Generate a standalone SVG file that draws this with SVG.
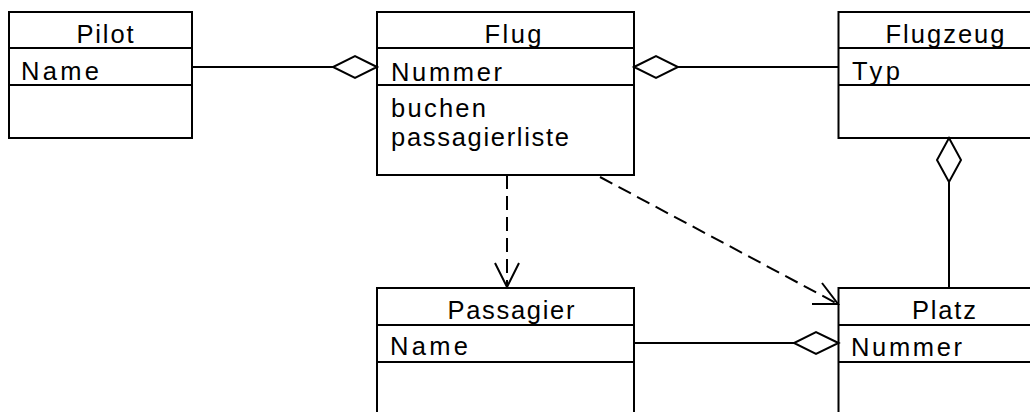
<svg xmlns="http://www.w3.org/2000/svg" width="1030" height="412" viewBox="0 0 1030 412">
  <style>
    .box { fill: #ffffff; stroke: #000000; stroke-width: 2; }
    .div { stroke: #000000; stroke-width: 2; fill: none; }
    .t { font-family: "Liberation Sans", Arial, sans-serif; font-size: 25.5px; fill: #000000; }
    .c { text-anchor: middle; }
    .line { stroke: #000000; stroke-width: 2; fill: none; }
    .dash { stroke: #000000; stroke-width: 2; fill: none; stroke-dasharray: 14 7; }
    .dia { fill: #ffffff; stroke: #000000; stroke-width: 2; stroke-linejoin: miter; }
  </style>
  <rect width="1030" height="412" fill="#ffffff"/>

  <g id="Pilot">
    <rect class="box" x="9" y="12" width="183" height="126"/>
    <line class="div" x1="9" y1="48" x2="192" y2="48"/>
    <line class="div" x1="9" y1="85" x2="192" y2="85"/>
    <text class="t c" x="105" y="43" textLength="57" lengthAdjust="spacing">Pilot</text>
    <text class="t" x="21" y="80" textLength="78" lengthAdjust="spacing">Name</text>
  </g>

  <g id="Flug">
    <rect class="box" x="377" y="12" width="257" height="163"/>
    <line class="div" x1="377" y1="48" x2="634" y2="48"/>
    <line class="div" x1="377" y1="85" x2="634" y2="85"/>
    <text class="t c" x="513" y="43" textLength="57" lengthAdjust="spacing">Flug</text>
    <text class="t" x="391" y="81" textLength="111" lengthAdjust="spacing">Nummer</text>
    <text class="t" x="391" y="117" textLength="95" lengthAdjust="spacing">buchen</text>
    <text class="t" x="391" y="146" textLength="178" lengthAdjust="spacing">passagierliste</text>
  </g>

  <g id="Flugzeug">
    <rect class="box" x="838.5" y="12" width="220" height="126"/>
    <line class="div" x1="838.5" y1="48" x2="1058" y2="48"/>
    <line class="div" x1="838.5" y1="85" x2="1058" y2="85"/>
    <text class="t c" x="945" y="43" textLength="119" lengthAdjust="spacing">Flugzeug</text>
    <text class="t" x="852" y="80" textLength="48" lengthAdjust="spacing">Typ</text>
  </g>

  <g id="Passagier">
    <rect class="box" x="377" y="288" width="257" height="140"/>
    <line class="div" x1="377" y1="325" x2="634" y2="325"/>
    <line class="div" x1="377" y1="362" x2="634" y2="362"/>
    <text class="t c" x="511" y="319" textLength="127" lengthAdjust="spacing">Passagier</text>
    <text class="t" x="390" y="355" textLength="78" lengthAdjust="spacing">Name</text>
  </g>

  <g id="Platz">
    <rect class="box" x="838.5" y="288" width="220" height="140"/>
    <line class="div" x1="838.5" y1="325" x2="1058" y2="325"/>
    <line class="div" x1="838.5" y1="362" x2="1058" y2="362"/>
    <text class="t c" x="944" y="319" textLength="64" lengthAdjust="spacing">Platz</text>
    <text class="t" x="851" y="356" textLength="111" lengthAdjust="spacing">Nummer</text>
  </g>

  <g id="connectors">
    <!-- Pilot - Flug aggregation -->
    <line class="line" x1="192" y1="67" x2="333" y2="67"/>
    <path class="dia" d="M377,67 L355,56 L333,67 L355,78 Z"/>
    <!-- Flug - Flugzeug aggregation -->
    <line class="line" x1="678" y1="67" x2="838.5" y2="67"/>
    <path class="dia" d="M634,67 L656,56 L678,67 L656,78 Z"/>
    <!-- Flugzeug - Platz aggregation -->
    <line class="line" x1="949" y1="182" x2="949" y2="288"/>
    <path class="dia" d="M949,138 L961,160 L949,182 L937,160 Z"/>
    <!-- Passagier - Platz aggregation -->
    <line class="line" x1="634" y1="343" x2="794" y2="343"/>
    <path class="dia" d="M838.5,343 L816,332 L794,343 L816,354 Z"/>
    <!-- Flug -> Passagier dependency -->
    <line class="dash" x1="507" y1="175" x2="507" y2="286"/>
    <path class="line" d="M495,263 L507,287 L519,263"/>
    <!-- Flug -> Platz dependency -->
    <line class="dash" x1="600" y1="177" x2="836" y2="303"/>
    <path class="line" d="M812,304 L838,304 L822,283"/>
  </g>
</svg>
